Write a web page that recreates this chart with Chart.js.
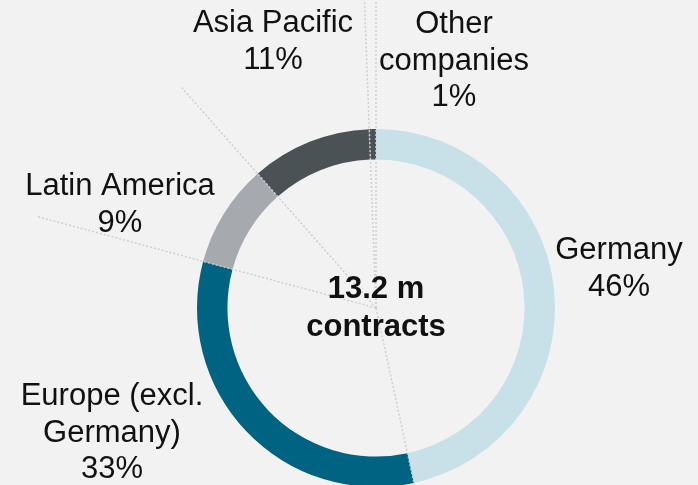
<!DOCTYPE html>
<html>
<head>
<meta charset="utf-8">
<script src="https://cdn.jsdelivr.net/npm/chart.js@4/dist/chart.umd.min.js"></script>
<style>
  html, body { margin: 0; padding: 0; background: #f2f2f2; overflow: hidden; }
  #wrap { position: absolute; left: 0; top: 0; width: 698px; height: 490px; }
</style>
</head>
<body>
<div id="wrap"><canvas id="myChart" width="698" height="490"></canvas></div>
<script>
// contracts by region, share of 13.2 m
var regions = ['Germany', 'Europe (excl.\nGermany)', 'Latin America', 'Asia Pacific', 'Other\ncompanies']
var shares = [46.6, 32.6, 9.3, 10.9, 0.6]
var shareLabels = ['46%', '33%', '9%', '11%', '1%']
var totalLabel = ['13.2 m', 'contracts']

var colors = ['#c8e0e7', '#006382', '#a6a9ad', '#4b5256', '#4b5256']

// where each label block sits (centre x, first baseline)
var labelPos = [[619, 259], [112, 405], [120, 195], [273, 32], [454, 33]]
// how far the dotted divider runs out from the centre, one per slice start
var dividerLen = [340, 200, 350, 295, 340]

var dividers = {
  id: 'dividers',
  afterDatasetsDraw: function (chart) {
    var ctx = chart.ctx
    var arcs = chart.getDatasetMeta(0).data
    ctx.save()
    ctx.strokeStyle = '#cfcfcf'
    ctx.lineWidth = 1.5
    ctx.setLineDash([2, 2])
    arcs.forEach(function (arc, i) {
      var a = arc.startAngle
      ctx.beginPath()
      ctx.moveTo(arc.x, arc.y)
      ctx.lineTo(arc.x + Math.cos(a) * dividerLen[i], arc.y + Math.sin(a) * dividerLen[i])
      ctx.stroke()
    })
    ctx.restore()
  }
}

var labels = {
  id: 'labels',
  afterDraw: function (chart) {
    var ctx = chart.ctx
    var arc = chart.getDatasetMeta(0).data[0]
    ctx.save()
    ctx.fillStyle = '#111'
    ctx.textAlign = 'center'
    ctx.textBaseline = 'alphabetic'
    ctx.font = '31px "Liberation Sans", Arial, sans-serif'
    regions.forEach(function (name, i) {
      var lines = name.split('\n').concat([shareLabels[i]])
      lines.forEach(function (t, j) {
        ctx.fillText(t, labelPos[i][0], labelPos[i][1] + j * 36.5)
      })
    })
    ctx.font = 'bold 31px "Liberation Sans", Arial, sans-serif'
    ctx.fillText(totalLabel[0], arc.x, 298)
    ctx.fillText(totalLabel[1], arc.x, 336)
    ctx.restore()
  }
}

var ctx = document.getElementById('myChart').getContext('2d')
var chart = new Chart(ctx, {
  type: 'doughnut',
  data: {
    labels: regions,
    datasets: [{
      data: shares,
      backgroundColor: colors,
      borderWidth: 0,
      hoverOffset: 0
    }]
  },
  options: {
    responsive: false,
    animation: false,
    cutout: '83%',
    layout: { padding: { left: 197, right: 143, top: 129, bottom: 3 } },
    plugins: {
      legend: { display: false },
      tooltip: { enabled: false }
    },
    events: []
  },
  plugins: [dividers, labels]
})
</script>
</body>
</html>
